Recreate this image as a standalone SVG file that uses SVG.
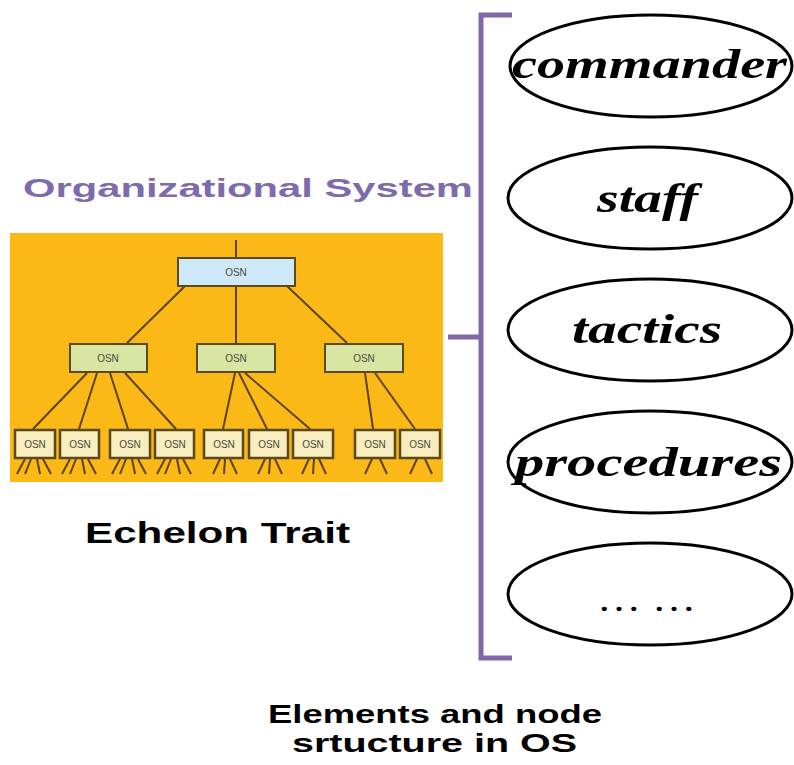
<svg xmlns="http://www.w3.org/2000/svg" width="794" height="765" viewBox="0 0 794 765">
<style>
.bg{fill:#FBB917}
.conn line{stroke:#5C4412;stroke-width:2}
.top{fill:#CFE9F9;stroke:#5A4A1A;stroke-width:2}
.mid{fill:#D9E5A3;stroke:#5A4A1A;stroke-width:2}
.low{fill:#F8EDBE;stroke:#5A4A1A;stroke-width:2.5}
.osn{font-family:"Liberation Sans",Arial,sans-serif;font-size:10px;fill:#4A4A3A;text-anchor:middle}
.ell{fill:#fff;stroke:#000;stroke-width:3}
.lbl{font-family:"Liberation Serif","Times New Roman",serif;font-weight:bold;font-style:italic;font-size:42px;fill:#000}
.bold{font-family:"Liberation Sans",Arial,sans-serif;font-weight:bold;fill:#000}
.brk{fill:none;stroke:#8068A8;stroke-width:5}
</style>
<rect class="bg" x="10" y="233" width="433" height="249"/>
<text x="23" y="197" font-family="'Liberation Sans',Arial,sans-serif" font-weight="bold" font-size="25" fill="#7E6BAE" textLength="450" lengthAdjust="spacingAndGlyphs">Organizational System</text>
<g id="connectors" class="conn">
<line x1="236" y1="240" x2="236" y2="258"/>
<line x1="185" y1="286" x2="127" y2="343"/>
<line x1="236" y1="286" x2="236" y2="343"/>
<line x1="287" y1="286" x2="347" y2="343"/>
<line x1="87" y1="373" x2="33" y2="429"/>
<line x1="97" y1="373" x2="79" y2="429"/>
<line x1="110" y1="373" x2="128" y2="429"/>
<line x1="125" y1="373" x2="176" y2="429"/>
<line x1="235" y1="373" x2="223" y2="429"/>
<line x1="239" y1="373" x2="267" y2="429"/>
<line x1="245" y1="373" x2="310" y2="429"/>
<line x1="365" y1="373" x2="373" y2="429"/>
<line x1="375" y1="373" x2="415" y2="429"/>
<line x1="25" y1="459" x2="17" y2="474"/><line x1="31" y1="459" x2="25" y2="474"/><line x1="37" y1="459" x2="40" y2="474"/><line x1="43" y1="459" x2="51" y2="474"/>
<line x1="70" y1="459" x2="62" y2="474"/><line x1="76" y1="459" x2="70" y2="474"/><line x1="82" y1="459" x2="85" y2="474"/><line x1="88" y1="459" x2="96" y2="474"/>
<line x1="120" y1="459" x2="112" y2="474"/><line x1="126" y1="459" x2="120" y2="474"/><line x1="132" y1="459" x2="135" y2="474"/><line x1="138" y1="459" x2="146" y2="474"/>
<line x1="165" y1="459" x2="157" y2="474"/><line x1="171" y1="459" x2="165" y2="474"/><line x1="177" y1="459" x2="180" y2="474"/><line x1="183" y1="459" x2="191" y2="474"/>
<line x1="220" y1="459" x2="213" y2="474"/><line x1="225" y1="459" x2="224" y2="474"/><line x1="230" y1="459" x2="237" y2="474"/>
<line x1="265" y1="459" x2="258" y2="474"/><line x1="270" y1="459" x2="269" y2="474"/><line x1="275" y1="459" x2="282" y2="474"/>
<line x1="309" y1="459" x2="302" y2="474"/><line x1="314" y1="459" x2="313" y2="474"/><line x1="319" y1="459" x2="326" y2="474"/>
<line x1="372" y1="459" x2="365" y2="474"/><line x1="380" y1="459" x2="387" y2="474"/>
<line x1="417" y1="459" x2="410" y2="474"/><line x1="425" y1="459" x2="432" y2="474"/>
</g>
<g id="osn-top"><rect class="top" x="178" y="258" width="117" height="28"/><text class="osn" x="236" y="276">OSN</text></g>
<g id="osn-m1"><rect class="mid" x="70" y="344" width="77" height="28"/><text class="osn" x="108" y="362">OSN</text></g>
<g id="osn-m2"><rect class="mid" x="197" y="344" width="78" height="28"/><text class="osn" x="236" y="362">OSN</text></g>
<g id="osn-m3"><rect class="mid" x="325" y="344" width="78" height="28"/><text class="osn" x="364" y="362">OSN</text></g>
<g id="osn-b1"><rect class="low" x="15" y="430" width="40" height="28"/><text class="osn" x="35" y="448">OSN</text></g>
<g id="osn-b2"><rect class="low" x="60" y="430" width="39" height="28"/><text class="osn" x="80" y="448">OSN</text></g>
<g id="osn-b3"><rect class="low" x="110" y="430" width="40" height="28"/><text class="osn" x="130" y="448">OSN</text></g>
<g id="osn-b4"><rect class="low" x="155" y="430" width="39" height="28"/><text class="osn" x="175" y="448">OSN</text></g>
<g id="osn-b5"><rect class="low" x="204" y="430" width="39" height="28"/><text class="osn" x="224" y="448">OSN</text></g>
<g id="osn-b6"><rect class="low" x="249" y="430" width="39" height="28"/><text class="osn" x="269" y="448">OSN</text></g>
<g id="osn-b7"><rect class="low" x="293" y="430" width="40" height="28"/><text class="osn" x="313" y="448">OSN</text></g>
<g id="osn-b8"><rect class="low" x="355" y="430" width="40" height="28"/><text class="osn" x="375" y="448">OSN</text></g>
<g id="osn-b9"><rect class="low" x="400" y="430" width="40" height="28"/><text class="osn" x="420" y="448">OSN</text></g>
<text class="bold" x="85" y="543" font-size="30" textLength="265" lengthAdjust="spacingAndGlyphs">Echelon Trait</text>
<g id="bracket"><path class="brk" d="M512,15 H481 V658 H512 M481,337 H448"/></g>
<g id="e-commander"><ellipse class="ell" cx="651" cy="66" rx="141" ry="51"/><text class="lbl" x="512" y="78" textLength="275" lengthAdjust="spacingAndGlyphs">commander</text></g>
<g id="e-staff"><ellipse class="ell" cx="650" cy="198" rx="142" ry="51"/><text class="lbl" x="597" y="212" textLength="101" lengthAdjust="spacingAndGlyphs">staff</text></g>
<g id="e-tactics"><ellipse class="ell" cx="650" cy="330" rx="142" ry="51"/><text class="lbl" x="572" y="343" textLength="150" lengthAdjust="spacingAndGlyphs">tactics</text></g>
<g id="e-procedures"><ellipse class="ell" cx="650" cy="462" rx="142" ry="51"/><text class="lbl" x="515" y="476" textLength="267" lengthAdjust="spacingAndGlyphs">procedures</text></g>
<g id="e-more"><ellipse class="ell" cx="650" cy="594" rx="142" ry="51"/><text x="597" y="611" font-family="'Liberation Serif','Times New Roman',serif" font-size="36" fill="#000" textLength="99" lengthAdjust="spacingAndGlyphs">… …</text></g>
<text class="bold" x="268" y="723" font-size="25" textLength="334" lengthAdjust="spacingAndGlyphs">Elements and node</text>
<text class="bold" x="292" y="752" font-size="25" textLength="285" lengthAdjust="spacingAndGlyphs">srtucture in OS</text>
</svg>
